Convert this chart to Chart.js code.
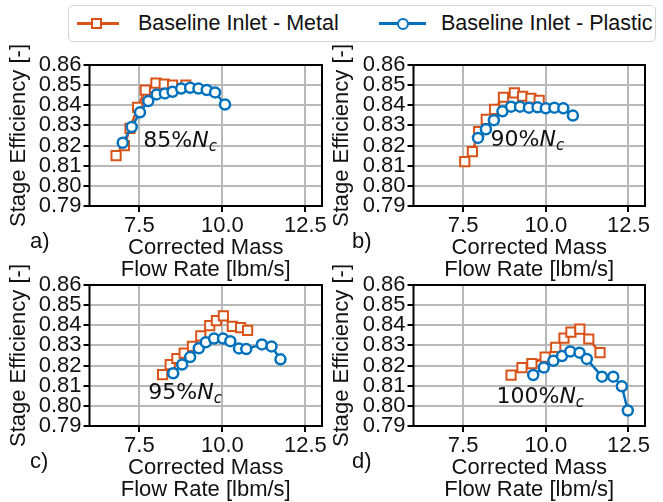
<!DOCTYPE html>
<html>
<head>
<meta charset="utf-8">
<script src="https://cdn.jsdelivr.net/npm/chart.js@4.4.1/dist/chart.umd.min.js"></script>
<style>
  html, body { margin: 0; padding: 0; background: #fff; }
  #fig { position: relative; width: 663px; height: 502px; overflow: hidden; font-family: "Liberation Sans", Arial, sans-serif; color: #111; }
  #fig canvas { position: absolute; }
  #legend { position: absolute; left: 68px; top: 5px; width: 586px; height: 35px; border: 1.5px solid #d4d4d4; border-radius: 5px; background: #fff; }
  .lg-text { position: absolute; top: 0; height: 35px; line-height: 35px; font-size: 21.5px; white-space: nowrap; }
  .lg-line { position: absolute; top: 16px; height: 3px; }
  .lg-mark { position: absolute; box-sizing: border-box; background: #fff; }
</style>
</head>
<body>
<div id="fig">
  <div id="legend">
    <div class="lg-line" style="left:8px;width:42px;background:#D95319"></div>
    <div class="lg-mark" style="left:22px;top:12px;width:11px;height:11px;border:2px solid #D95319"></div>
    <div class="lg-text" style="left:69px">Baseline Inlet - Metal</div>
    <div class="lg-line" style="left:310px;width:47px;background:#0072BD"></div>
    <div class="lg-mark" style="left:328px;top:12px;width:12px;height:12px;border:2.5px solid #0072BD;border-radius:50%"></div>
    <div class="lg-text" style="left:372px">Baseline Inlet - Plastic</div>
  </div>
  <canvas id="pA" width="331" height="260" style="left:0px;top:35px"></canvas>
  <canvas id="pB" width="340" height="260" style="left:323px;top:35px"></canvas>
  <canvas id="pC" width="331" height="260" style="left:0px;top:255px"></canvas>
  <canvas id="pD" width="340" height="260" style="left:323px;top:255px"></canvas>
</div>
<script>
// axis ticks shared by all four panels
const xTicks = [7.5, 10.0, 12.5];
const yTicks = [0.79, 0.80, 0.81, 0.82, 0.83, 0.84, 0.85, 0.86];

// 85% speed line
const metalFlow85 = [6.80, 7.05, 7.22, 7.45, 7.68, 8.00, 8.25, 8.50, 8.90];
const metalEff85 = [0.8150, 0.8200, 0.8285, 0.8390, 0.8475, 0.8510, 0.8505, 0.8500, 0.8500];
const plasticFlow85 = [7.00, 7.27, 7.52, 7.77, 8.02, 8.27, 8.50, 8.76, 9.03, 9.28, 9.53, 9.78, 10.08];
const plasticEff85 = [0.8214, 0.8292, 0.8365, 0.8421, 0.8454, 0.8459, 0.8467, 0.8483, 0.8487, 0.8483, 0.8476, 0.8464, 0.8404];

// 90% speed line
const metalFlow90 = [7.55, 7.78, 7.97, 8.20, 8.45, 8.72, 9.05, 9.30, 9.55, 9.80];
const metalEff90 = [0.8120, 0.8170, 0.8270, 0.8330, 0.8380, 0.8440, 0.8462, 0.8445, 0.8435, 0.8425];
const plasticFlow90 = [7.95, 8.19, 8.43, 8.69, 8.95, 9.22, 9.49, 9.75, 10.00, 10.26, 10.53, 10.82];
const plasticEff90 = [0.8238, 0.8281, 0.8326, 0.8370, 0.8393, 0.8393, 0.8388, 0.8390, 0.8385, 0.8388, 0.8385, 0.8349];

// 95% speed line
const metalFlow95 = [8.20, 8.43, 8.63, 8.85, 9.10, 9.35, 9.62, 9.82, 10.03, 10.30, 10.55, 10.76];
const metalEff95 = [0.8155, 0.8205, 0.8235, 0.8262, 0.8295, 0.8347, 0.8398, 0.8423, 0.8447, 0.8395, 0.8388, 0.8375];
const plasticFlow95 = [8.52, 8.79, 9.03, 9.29, 9.50, 9.75, 10.02, 10.24, 10.50, 10.72, 11.19, 11.48, 11.75];
const plasticEff95 = [0.8162, 0.8205, 0.8242, 0.8286, 0.8316, 0.8334, 0.8334, 0.8321, 0.8285, 0.8282, 0.8305, 0.8295, 0.8231];

// 100% speed line
const metalFlow100 = [8.95, 9.28, 9.58, 9.98, 10.30, 10.55, 10.76, 11.03, 11.30, 11.64];
const metalEff100 = [0.8153, 0.8190, 0.8210, 0.8242, 0.8290, 0.8336, 0.8366, 0.8381, 0.8332, 0.8264];
const plasticFlow100 = [9.62, 9.94, 10.23, 10.49, 10.74, 11.02, 11.24, 11.70, 12.04, 12.30, 12.48];
const plasticEff100 = [0.8153, 0.8190, 0.8224, 0.8247, 0.8270, 0.8264, 0.8233, 0.8145, 0.8145, 0.8097, 0.7977];

const METAL = '#D95319';
const PLASTIC = '#0072BD';
const GRID = '#b8b8b8';
const INK = '#111';

Chart.defaults.font.family = '"Liberation Sans", Arial, sans-serif';
Chart.defaults.font.size = 22;
Chart.defaults.color = INK;

const toPoints = (xs, ys) => xs.map((x, i) => ({ x, y: ys[i] }));

// frame, speed-line note and panel letter
const panelDecor = {
  id: 'panelDecor',
  afterDraw(chart, args, opts) {
    const { ctx, chartArea: a, scales } = chart;
    ctx.save();
    ctx.strokeStyle = '#000';
    ctx.lineWidth = 2;
    ctx.strokeRect(a.left, a.top, a.right - a.left, a.bottom - a.top);

    const x = scales.x.getPixelForValue(opts.noteAt[0]);
    const y = scales.y.getPixelForValue(opts.noteAt[1]);
    ctx.fillStyle = INK;
    ctx.textAlign = 'left';
    ctx.textBaseline = 'middle';
    ctx.font = '22px "DejaVu Sans"';
    const pct = opts.speed + '%';
    ctx.fillText(pct, x, y);
    let w = ctx.measureText(pct).width;
    ctx.font = 'oblique 22px "DejaVu Sans"';
    ctx.fillText('N', x + w, y);
    w += ctx.measureText('N').width;
    ctx.font = 'oblique 15px "DejaVu Sans"';
    ctx.fillText('c', x + w, y + 6);

    ctx.font = '22px "Liberation Sans"';
    ctx.fillText(opts.letter, opts.letterX, a.bottom + 36);
    ctx.restore();
  }
};

function makePanel(id, p) {
  new Chart(document.getElementById(id), {
    type: 'scatter',
    data: {
      datasets: [
        {
          label: 'Baseline Inlet - Plastic',
          data: toPoints(p.plasticFlow, p.plasticEff),
          showLine: true,
          order: 0,
          borderColor: PLASTIC,
          borderWidth: 2.5,
          pointStyle: 'circle',
          pointRadius: 5,
          pointBorderWidth: 2.5,
          pointBackgroundColor: '#fff',
          pointBorderColor: PLASTIC
        },
        {
          label: 'Baseline Inlet - Metal',
          data: toPoints(p.metalFlow, p.metalEff),
          showLine: true,
          order: 1,
          borderColor: METAL,
          borderWidth: 2.5,
          pointStyle: 'rect',
          pointRadius: 6.5,
          pointBorderWidth: 2,
          pointBackgroundColor: '#fff',
          pointBorderColor: METAL
        }
      ]
    },
    options: {
      responsive: false,
      animation: false,
      events: [],
      layout: { padding: { left: 0, top: 30, right: p.padRight, bottom: 14 } },
      plugins: {
        legend: { display: false },
        tooltip: { enabled: false },
        panelDecor: { speed: p.speed, noteAt: p.noteAt, letter: p.letter, letterX: p.letterX }
      },
      scales: {
        x: {
          type: 'linear',
          min: 6,
          max: 13,
          afterBuildTicks: s => { s.ticks = xTicks.map(v => ({ value: v })); },
          afterFit: s => { s.height = 75; },
          border: { display: false },
          grid: { color: GRID, lineWidth: 2, tickColor: '#000', tickWidth: 2, tickLength: 6 },
          ticks: { padding: 3, maxRotation: 0, autoSkip: false, font: { size: 22, lineHeight: 1 }, callback: v => v.toFixed(1) },
          title: {
            display: true,
            text: ['Corrected Mass', 'Flow Rate [lbm/s]'],
            font: { size: 22, lineHeight: 1 },
            padding: 0
          }
        },
        y: {
          min: 0.79,
          max: 0.86,
          afterBuildTicks: s => { s.ticks = yTicks.map(v => ({ value: v })); },
          afterFit: s => { s.width = p.axisWidth; },
          border: { display: false },
          grid: { color: GRID, lineWidth: 2, tickColor: '#000', tickWidth: 2, tickLength: 6 },
          ticks: { padding: 2, autoSkip: false, font: { size: 22, lineHeight: 1 }, callback: v => v.toFixed(2) },
          title: {
            display: true,
            text: 'Stage Efficiency [-]',
            font: { size: 22, lineHeight: 1 },
            padding: { top: 8, bottom: 0 }
          }
        }
      }
    },
    plugins: [panelDecor]
  });
}

makePanel('pA', { metalFlow: metalFlow85, metalEff: metalEff85, plasticFlow: plasticFlow85, plasticEff: plasticEff85,
  speed: 85, noteAt: [7.62, 0.8223], letter: 'a)', letterX: 30, axisWidth: 89.5, padRight: 9 });
makePanel('pB', { metalFlow: metalFlow90, metalEff: metalEff90, plasticFlow: plasticFlow90, plasticEff: plasticEff90,
  speed: 90, noteAt: [8.33, 0.8228], letter: 'b)', letterX: 29, axisWidth: 90.5, padRight: 18 });
makePanel('pC', { metalFlow: metalFlow95, metalEff: metalEff95, plasticFlow: plasticFlow95, plasticEff: plasticEff95,
  speed: 95, noteAt: [7.77, 0.8064], letter: 'c)', letterX: 30, axisWidth: 89.5, padRight: 9 });
makePanel('pD', { metalFlow: metalFlow100, metalEff: metalEff100, plasticFlow: plasticFlow100, plasticEff: plasticEff100,
  speed: 100, noteAt: [8.51, 0.8043], letter: 'd)', letterX: 29, axisWidth: 90.5, padRight: 18 });
</script>
</body>
</html>
